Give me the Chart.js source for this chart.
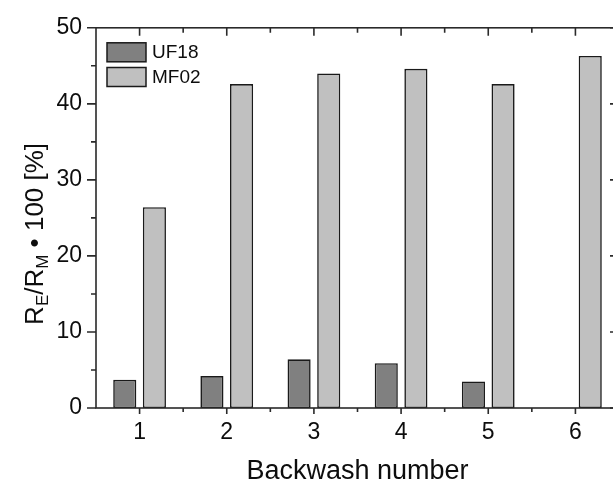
<!DOCTYPE html>
<html>
<head>
<meta charset="utf-8">
<script src="https://cdn.jsdelivr.net/npm/chart.js@4"></script>
<style>
	html, body { margin: 0; padding: 0; background: #fff; overflow: hidden; }
	#wrap { width: 613px; height: 485px; overflow: hidden; }
</style>
</head>
<body>
<div id="wrap"><canvas id="bar-chart" width="625" height="485"></canvas></div>
<script>
const backwash_labels = ['1', '2', '3', '4', '5', '6'];
const uf18_values = [3.7, 4.2, 6.4, 5.9, 3.5, null];
const mf02_values = [26.4, 42.6, 44.0, 44.6, 42.6, 46.3];
const y_min = 0, y_max = 50, y_step = 10;

const FONT = '"Liberation Sans", Arial, Helvetica, sans-serif';
const AXIS_COLOR = '#2a2a2a';
const TEXT_COLOR = '#0d0d0d';

//frame around the plot with ticks on all four sides
const framePlugin = {
	id: 'frame',
	afterDatasetsDraw(chart) {
		const { ctx, chartArea: a, scales: { x, y } } = chart;
		ctx.save();
		ctx.strokeStyle = AXIS_COLOR;
		ctx.lineWidth = 1.6;
		ctx.strokeRect(a.left, a.top, a.right - a.left, a.bottom - a.top);
		ctx.beginPath();
		// y ticks, major + minor halfway
		for (let v = y_min; v <= y_max; v += y_step / 2) {
			const p = y.getPixelForValue(v);
			const major = v % y_step === 0;
			ctx.moveTo(a.left - (major ? 9 : 5), p);
			ctx.lineTo(a.left, p);
			ctx.moveTo(a.right, p);
			ctx.lineTo(a.right - (major ? 9 : 5), p);
		}
		// x ticks at each category and between them
		for (let i = 0; i < backwash_labels.length; i += 0.5) {
			const p = x.getPixelForValue(i);
			const major = i % 1 === 0;
			ctx.moveTo(p, a.bottom);
			ctx.lineTo(p, a.bottom + (major ? 6 : 4));
			ctx.moveTo(p, a.top);
			ctx.lineTo(p, a.top + (major ? 8 : 5));
		}
		ctx.stroke();
		ctx.restore();
	}
};

//legend box inside the plot, top left
const legendPlugin = {
	id: 'innerLegend',
	afterDatasetsDraw(chart) {
		const { ctx, chartArea: a } = chart;
		ctx.save();
		chart.data.datasets.forEach((ds, i) => {
			const bx = a.left + 11, by = a.top + 15 + i * 24.7;
			ctx.fillStyle = ds.backgroundColor;
			ctx.fillRect(bx, by, 39, 19);
			ctx.strokeStyle = ds.borderColor;
			ctx.lineWidth = 1.5;
			ctx.strokeRect(bx, by, 39, 19);
			ctx.fillStyle = TEXT_COLOR;
			ctx.font = '19px ' + FONT;
			ctx.textBaseline = 'middle';
			ctx.fillText(ds.label, bx + 45, by + 10);
		});
		ctx.restore();
	}
};

//y title with subscripts, canvas text rotated
const yTitlePlugin = {
	id: 'yTitle',
	afterDraw(chart) {
		const { ctx, chartArea: a } = chart;
		const parts = [['R', 0], ['E', 1], ['/R', 0], ['M', 1], [' \u2022 100 [%]', 0]];
		const big = '26px ' + FONT, small = '17px ' + FONT;
		ctx.save();
		let total = 0;
		parts.forEach(([t, sub]) => {
			ctx.font = sub ? small : big;
			total += ctx.measureText(t).width;
		});
		ctx.translate(43, (a.top + a.bottom) / 2 + 16);
		ctx.rotate(-Math.PI / 2);
		ctx.fillStyle = TEXT_COLOR;
		ctx.textBaseline = 'alphabetic';
		let cx = -total / 2;
		parts.forEach(([t, sub]) => {
			ctx.font = sub ? small : big;
			ctx.fillText(t, cx, sub ? 5 : 0);
			cx += ctx.measureText(t).width;
		});
		ctx.restore();
	}
};

const ctx = document.getElementById('bar-chart').getContext('2d');
const myChart = new Chart(ctx, {
	type: 'bar',
	data: {
		labels: backwash_labels,
		datasets: [{
			label: 'UF18',
			data: uf18_values,
			backgroundColor: '#808080',
			borderColor: '#1a1a1a',
			borderWidth: 1.6,
			borderSkipped: false
		},
		{
			label: 'MF02',
			data: mf02_values,
			backgroundColor: '#c0c0c0',
			borderColor: '#1a1a1a',
			borderWidth: 1.6,
			borderSkipped: false
		}]
	},
	options: {
		responsive: false,
		animation: false,
		layout: { padding: { top: 24, right: 6, left: 0, bottom: 0 } },
		categoryPercentage: 0.68,
		barPercentage: 0.78,
		plugins: {
			legend: { display: false },
			tooltip: { enabled: false }
		},
		scales: {
			x: {
				type: 'category',
				offset: true,
				grid: { display: false, drawTicks: false },
				border: { display: false },
				ticks: { font: { family: FONT, size: 23 }, color: TEXT_COLOR, padding: 11, maxRotation: 0 },
				title: { display: true, text: 'Backwash number', font: { family: FONT, size: 27 }, color: TEXT_COLOR, padding: { top: 0, bottom: -3 } },
				afterFit(scale) { scale.height = 77; }
			},
			y: {
				min: y_min,
				max: y_max,
				grid: { display: false, drawTicks: false },
				border: { display: false },
				ticks: { stepSize: y_step, font: { family: FONT, size: 23 }, color: TEXT_COLOR, padding: 14 },
				afterFit(scale) { scale.width = 96; }
			}
		}
	},
	plugins: [framePlugin, legendPlugin, yTitlePlugin]
});
</script>
</body>
</html>
